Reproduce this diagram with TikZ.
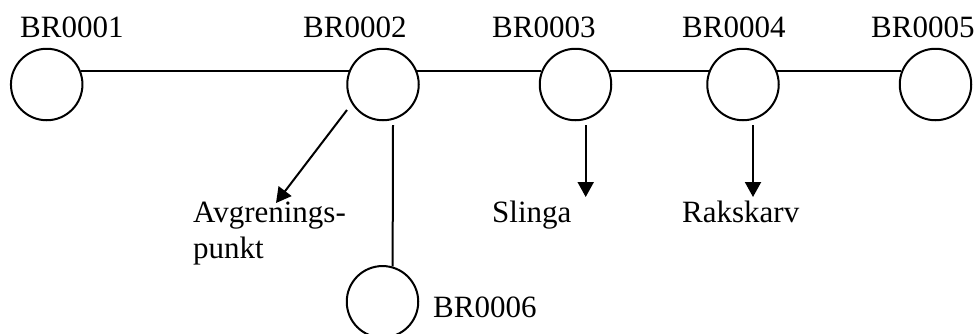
\documentclass[tikz,border=0pt]{standalone}
\usepackage{fontspec}
\setmainfont{Liberation Serif}
\usetikzlibrary{arrows.meta,calc}
\begin{document}
\begin{tikzpicture}[x=1pt,y=-1pt,
  station/.style={draw,circle,line width=2pt,minimum size=71.5pt,inner sep=0pt},
  lbl/.style={anchor=base west,inner sep=0pt,font=\fontsize{31}{36}\selectfont},
  link/.style={line width=2pt},
  pointer/.style={line width=2pt,-{Triangle[length=15pt,width=16pt]}}]
\useasboundingbox (0,0) rectangle (978,333);

% stations along the main line
\node[station] (c1) at (46.7,84.5) {};
\node[station] (c2) at (383,84.5) {};
\node[station] (c3) at (575.5,84.5) {};
\node[station] (c4) at (743,84.5) {};
\node[station] (c5) at (935.5,84.5) {};
\node[station] (c6) at (382.5,301.8) {};

% station names
\node[lbl] (n1) at (20,37) {BR0001};
\node[lbl] (n2) at (303,37) {BR0002};
\node[lbl] (n3) at (492,37) {BR0003};
\node[lbl] (n4) at (682,37) {BR0004};
\node[lbl] (n5) at (871,37) {BR0005};
\node[lbl] (n6) at (433,317) {BR0006};

% feature labels
\node[lbl] (avg) at (193,222) {Avgrenings-};
\node[lbl] (avg2) at (193,258) {punkt};
\node[lbl] (sl) at (492,222) {Slinga};
\node[lbl] (rk) at (682,222) {Rakskarv};

% arrow tips
\coordinate (avgtip) at (276,203);
\coordinate (sltip) at (585.7,197);
\coordinate (rktip) at (753,197);

% main line
\draw[link] (c1.21) -- (c2.159);
\draw[link] (c2.21) -- (c3.159);
\draw[link] (c3.21) -- (c4.159);
\draw[link] (c4.21) -- (c5.159);

% branch to BR0006
\draw[link] ($(c2.center)+(10,40.5)$) -- (c6.74);

% pointers to features
\draw[pointer] ($(c2.center)+(-36,25.5)$) -- (avgtip);
\draw[pointer] ($(c3.center)+(10.2,40.5)$) -- (sltip);
\draw[pointer] ($(c4.center)+(10,40.5)$) -- (rktip);
\end{tikzpicture}
\end{document}
